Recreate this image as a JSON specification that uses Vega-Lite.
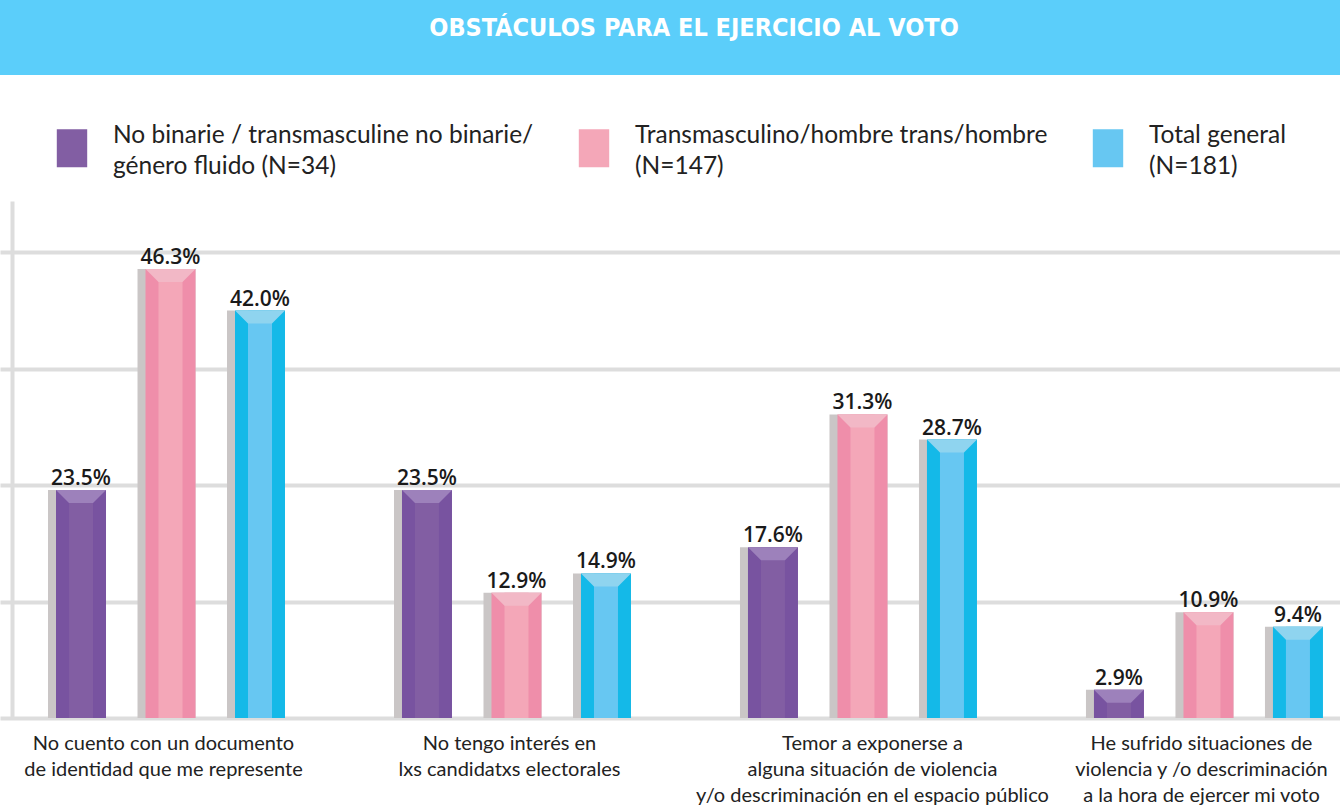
{
  "$schema": "https://vega.github.io/schema/vega-lite/v6.json",
  "padding": 0,
  "background": "white",
  "spacing": 54,
  "config": {"view": {"stroke": null}},
  "datasets": {
    "bars": [
      {"cat": "No cuento con un documento\nde identidad que me represente", "grp": "No binarie / transmasculine no binarie/\ngénero fluido (N=34)", "pct": 23.5},
      {"cat": "No cuento con un documento\nde identidad que me represente", "grp": "Transmasculino/hombre trans/hombre\n(N=147)", "pct": 46.3},
      {"cat": "No cuento con un documento\nde identidad que me represente", "grp": "Total general\n(N=181)", "pct": 42.0},
      {"cat": "No tengo interés en\nlxs candidatxs  electorales", "grp": "No binarie / transmasculine no binarie/\ngénero fluido (N=34)", "pct": 23.5},
      {"cat": "No tengo interés en\nlxs candidatxs  electorales", "grp": "Transmasculino/hombre trans/hombre\n(N=147)", "pct": 12.9},
      {"cat": "No tengo interés en\nlxs candidatxs  electorales", "grp": "Total general\n(N=181)", "pct": 14.9},
      {"cat": "Temor a exponerse a\nalguna situación de violencia\ny/o descriminación en el espacio público", "grp": "No binarie / transmasculine no binarie/\ngénero fluido (N=34)", "pct": 17.6},
      {"cat": "Temor a exponerse a\nalguna situación de violencia\ny/o descriminación en el espacio público", "grp": "Transmasculino/hombre trans/hombre\n(N=147)", "pct": 31.3},
      {"cat": "Temor a exponerse a\nalguna situación de violencia\ny/o descriminación en el espacio público", "grp": "Total general\n(N=181)", "pct": 28.7},
      {"cat": "He sufrido situaciones de\nviolencia y /o descriminación\na la hora de ejercer mi voto", "grp": "No binarie / transmasculine no binarie/\ngénero fluido (N=34)", "pct": 2.9},
      {"cat": "He sufrido situaciones de\nviolencia y /o descriminación\na la hora de ejercer mi voto", "grp": "Transmasculino/hombre trans/hombre\n(N=147)", "pct": 10.9},
      {"cat": "He sufrido situaciones de\nviolencia y /o descriminación\na la hora de ejercer mi voto", "grp": "Total general\n(N=181)", "pct": 9.4}
    ]
  },
  "vconcat": [
    {
      "width": 1340,
      "height": 75,
      "view": {"fill": "#5BCEFA", "stroke": null},
      "data": {"values": [{"title": "OBSTÁCULOS PARA EL EJERCICIO AL VOTO"}]},
      "mark": {"type": "text", "font": "DejaVu Sans Condensed", "fontWeight": "bold", "fontSize": 25, "color": "white", "baseline": "middle", "dy": -10, "dx": 24},
      "encoding": {"text": {"field": "title"}}
    },
    {
      "width": 1340,
      "height": 517,
      "data": {"name": "bars"},
      "transform": [{"calculate": "format(datum.pct, '.1f') + '%'", "as": "label"}],
      "encoding": {
        "x": {
          "field": "cat", "type": "nominal", "sort": null, "title": null,
          "scale": {"paddingInner": 0.315, "paddingOuter": 0.094, "align": 0.738},
          "axis": {
            "labelExpr": "split(datum.label, '\\n')",
            "labelFont": "Lato", "labelFontSize": 20, "labelColor": "#222222",
            "labelAngle": 0, "labelPadding": 15, "labelLineHeight": 26, "labelLimit": 600,
            "labelOffset": {"condition": {"test": "indexof(datum.value, 'Temor') == 0", "value": 14}, "value": -3},
            "ticks": false, "grid": false,
            "domain": true, "domainColor": "#dddddd", "domainWidth": 4
          }
        },
        "xOffset": {
          "field": "grp", "type": "nominal", "sort": null,
          "scale": {"type": "band", "paddingInner": 0.4413, "paddingOuter": 0.0447, "align": 1}
        },
        "y": {
          "field": "pct", "type": "quantitative", "title": null,
          "scale": {"domain": [0, 53.3], "nice": false},
          "axis": {
            "values": [12, 24, 36, 48], "labels": false, "ticks": false,
            "grid": true, "gridColor": "#dddddd", "gridWidth": 4,
            "domain": true, "domainColor": "#dddddd", "domainWidth": 4, "offset": -12
          }
        }
      },
      "layer": [
        {
          "mark": {"type": "bar", "color": "#cac6c6"},
          "encoding": {
            "xOffset": {
              "field": "grp", "type": "nominal", "sort": null,
              "scale": {"type": "band", "paddingInner": 0.352, "paddingOuter": 0}
            }
          }
        },
        {
          "mark": {"type": "bar"},
          "encoding": {
            "color": {"field": "grp", "type": "nominal", "sort": null, "legend": null,
              "scale": {"range": ["#7853a0", "#ef8eaa", "#14b9e8"]}}
          }
        },
        {
          "mark": {"type": "bar", "width": 24},
          "encoding": {
            "color": {"field": "grp", "type": "nominal", "sort": null,
              "scale": {"range": ["#825ea3", "#f4a7b8", "#67c7f2"]},
              "legend": {
                "orient": "none", "legendX": 53, "legendY": -72,
                "direction": "horizontal", "columns": 3, "title": null,
                "symbolType": "M-0.8,-1H0.8V1H-0.8Z", "symbolSize": 1444, "symbolStrokeWidth": 0,
                "labelFont": "Lato", "labelFontSize": 24.5, "labelColor": "#222222",
                "labelOffset": 22, "columnPadding": 41, "labelLimit": 600,
                "labelExpr": "split(datum.label, '\\n')",
                "encode": {"labels": {"update": {"lineHeight": {"value": 31}, "dy": {"value": -12}}}}
              }
            }
          }
        },
        {
          "mark": {"type": "point", "shape": "M-1,0L1,0L0.48,0.52L-0.48,0.52Z", "size": 2500, "filled": true, "opacity": 1, "strokeWidth": 0},
          "encoding": {
            "color": {"field": "grp", "type": "nominal", "sort": null, "legend": null,
              "scale": {"range": ["#9d81bb", "#f2b8c6", "#8fd4ef"]}}
          }
        },
        {
          "mark": {"type": "text", "font": "Open Sans", "fontWeight": 600, "fontSize": 21, "color": "#1a1a1a", "baseline": "alphabetic", "dy": -5},
          "encoding": {"text": {"field": "label"}}
        }
      ],
      "resolve": {"scale": {"color": "independent", "xOffset": "independent"}}
    }
  ]
}
